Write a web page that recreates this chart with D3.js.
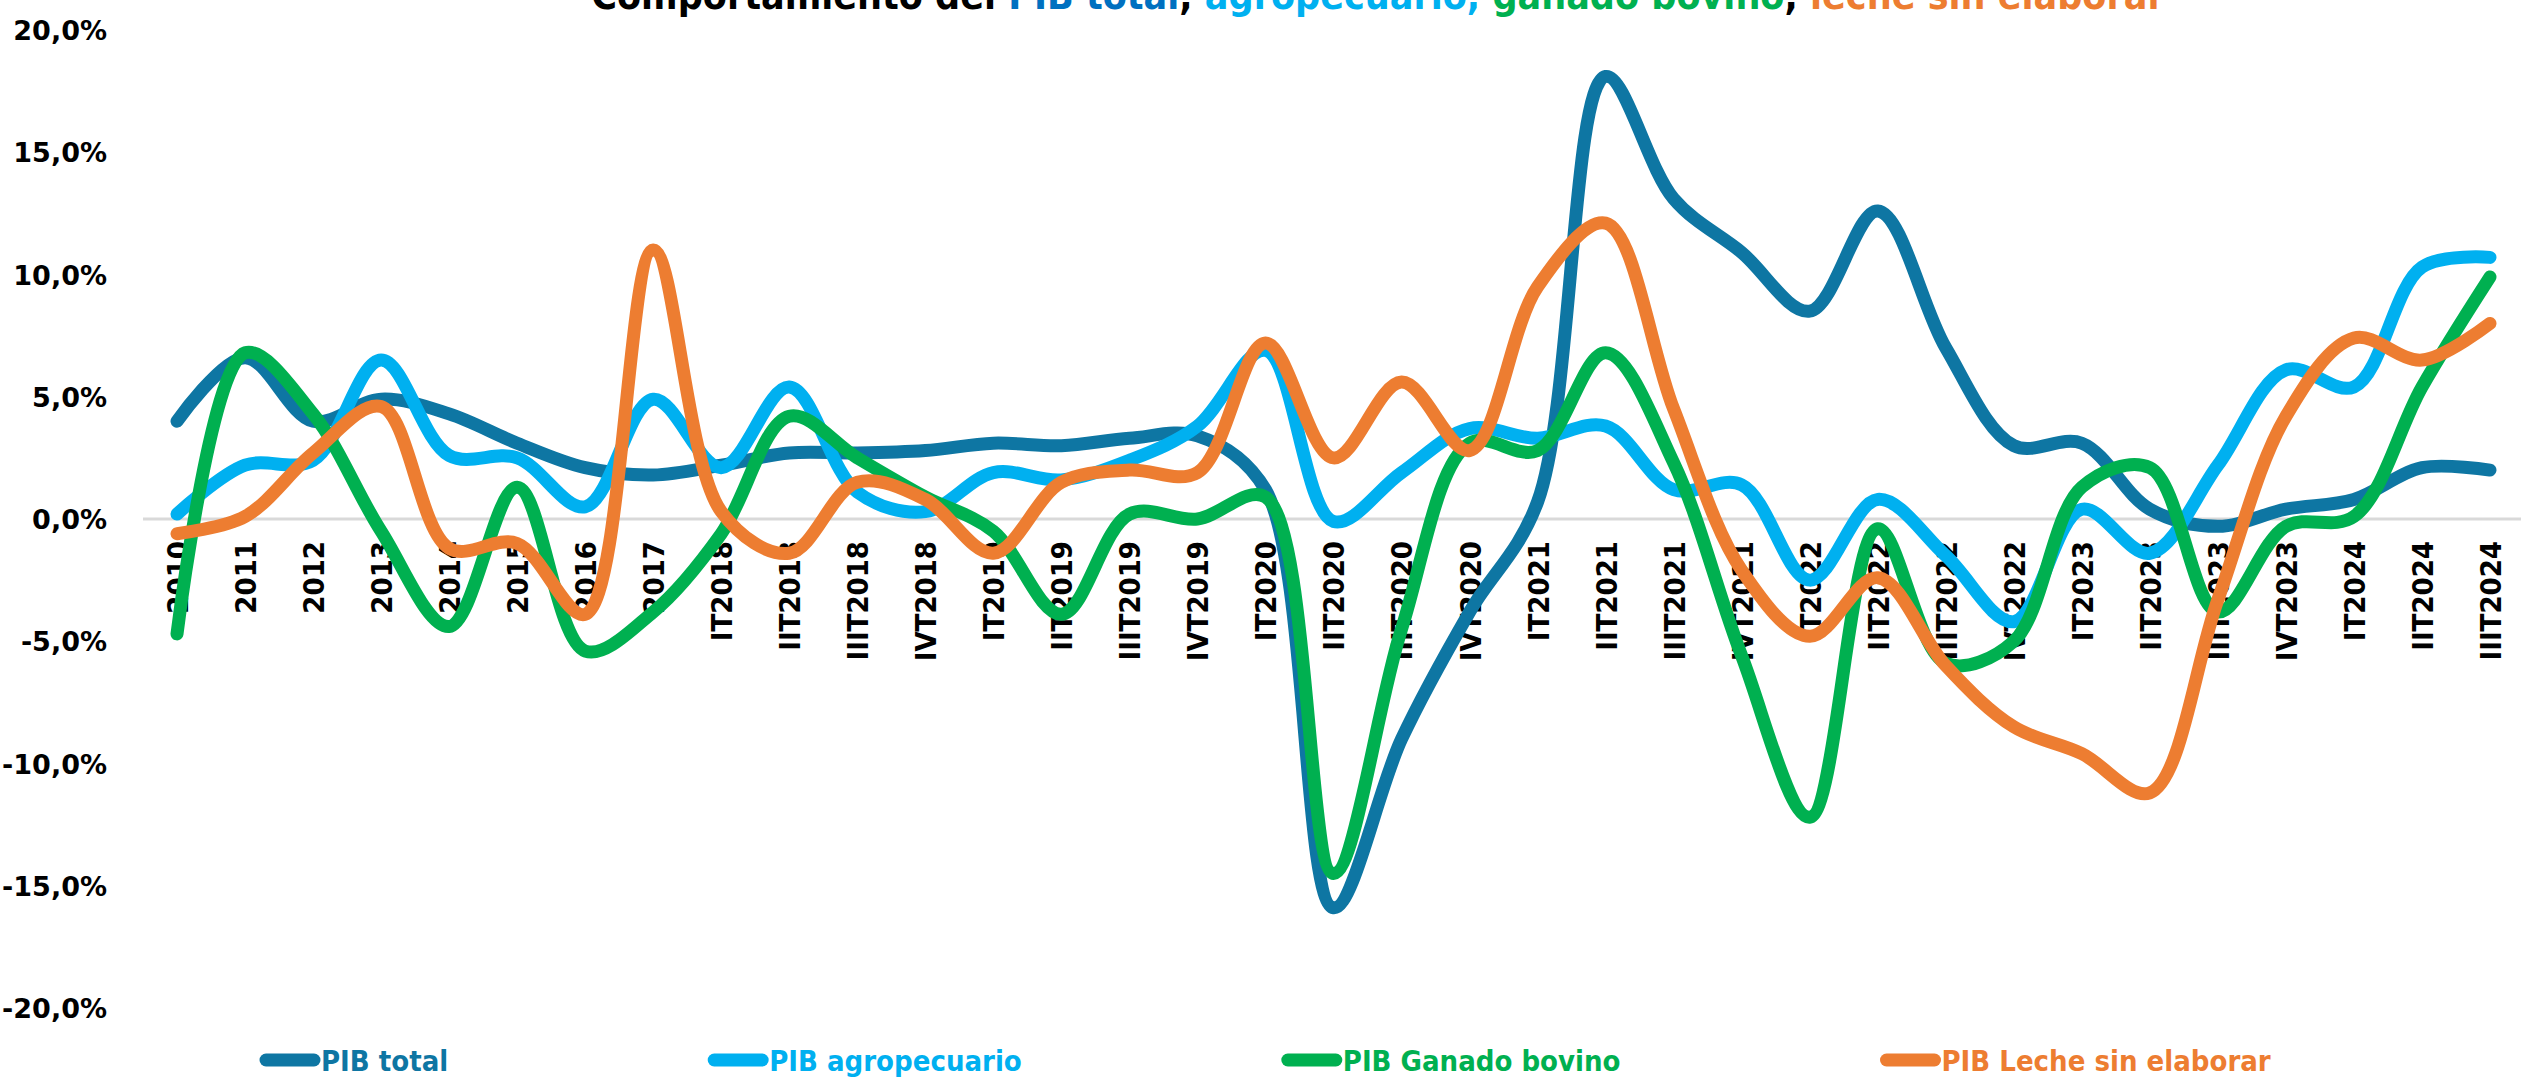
<!DOCTYPE html>
<html>
<head>
<meta charset="utf-8">
<script src="https://cdn.jsdelivr.net/npm/d3@7"></script>
<style>
  body { margin: 0; background: #fff; }
  svg { display: block; }
  .cond { font-family: "DejaVu Sans Condensed", "DejaVu Sans", sans-serif; font-stretch: condensed; font-weight: bold; }
  .yax text { font-family: "DejaVu Sans", sans-serif; font-weight: bold; font-size: 27px; fill: #000; }
</style>
</head>
<body>
<div id="chart-container"></div>
<script>
// categories (x axis)
var categories = ["2010", "2011", "2012", "2013", "2014", "2015", "2016", "2017",
    "IT2018", "IIT2018", "IIIT2018", "IVT2018",
    "IT2019", "IIT2019", "IIIT2019", "IVT2019",
    "IT2020", "IIT2020", "IIIT2020", "IVT2020",
    "IT2021", "IIT2021", "IIIT2021", "IVT2021",
    "IT2022", "IIT2022", "IIIT2022", "IVT2022",
    "IT2023", "IIT2023", "IIIT2023", "IVT2023",
    "IT2024", "IIT2024", "IIIT2024"];

// series values (%)
var pibTotal = [4.0, 6.6, 4.0, 4.9, 4.3, 3.1, 2.1, 1.8, 2.2, 2.7, 2.7, 2.8,
    3.1, 3.0, 3.3, 3.4, 1.2, -15.9, -9.0, -3.8, 0.7, 18.1, 13.1, 10.9,
    8.5, 12.6, 7.0, 3.0, 3.1, 0.4, -0.3, 0.4, 0.8, 2.1, 2.0];
var pibAgro = [0.2, 2.2, 2.4, 6.5, 2.6, 2.5, 0.5, 4.9, 2.1, 5.4, 1.1, 0.3,
    1.9, 1.6, 2.4, 3.8, 6.9, -0.1, 1.9, 3.7, 3.3, 3.8, 1.2, 1.4,
    -2.5, 0.8, -1.5, -4.2, 0.4, -1.4, 2.2, 6.1, 5.4, 10.3, 10.7];
var pibBovino = [-4.7, 6.8, 4.3, -0.5, -4.4, 1.3, -5.4, -3.8, -0.6, 4.2, 2.5, 0.9,
    -0.5, -3.9, 0.2, 0.0, 0.9, -14.5, -4.5, 3.1, 2.8, 6.8, 2.3, -5.6,
    -12.2, -0.4, -5.9, -5.0, 1.3, 2.1, -3.8, -0.3, 0.1, 5.4, 9.9];
var pibLeche = [-0.6, 0.1, 2.7, 4.6, -1.2, -1.0, -3.9, 11.0, 0.3, -1.4, 1.5, 0.8,
    -1.4, 1.5, 2.0, 1.9, 7.2, 2.5, 5.6, 2.8, 9.5, 12.1, 4.5, -2.1,
    -4.8, -2.4, -6.0, -8.5, -9.6, -11.2, -3.3, 4.2, 7.4, 6.5, 8.0];

// y ticks
var yTicks = [-20, -15, -10, -5, 0, 5, 10, 15, 20];

var seriesNames = ["PIB total", "PIB agropecuario", "PIB Ganado bovino", "PIB Leche sin elaborar"];
var seriesColors = ["#0e76a3", "#00b0f0", "#00b050", "#ed7d31"];
var seriesValues = [pibTotal, pibAgro, pibBovino, pibLeche];

var width = 2521, height = 1081;

var svg = d3.select("#chart-container").append("svg")
    .attr("width", width)
    .attr("height", height);

// scales
var x = d3.scalePoint()
    .domain(categories)
    .range([143, 2524])
    .padding(0.5);

var y = d3.scaleLinear()
    .domain([-20, 20])
    .range([1008, 30]);

// zero line
svg.append("line")
    .attr("x1", 143).attr("x2", width)
    .attr("y1", y(0)).attr("y2", y(0))
    .attr("stroke", "#d9d9d9")
    .attr("stroke-width", 3);

// y axis
var yAxis = svg.append("g")
    .attr("class", "yax")
    .attr("transform", "translate(143,0)")
    .call(d3.axisLeft(y)
        .tickValues(yTicks)
        .tickSize(0)
        .tickPadding(36)
        .tickFormat(function (d) { return d3.format(".1f")(d).replace(".", ",").replace("−", "-") + "%"; }));
yAxis.select(".domain").remove();
yAxis.selectAll("text").attr("dy", "0.36em");

// x axis labels, rotated
var xAxis = svg.append("g")
    .attr("transform", "translate(0," + y(0) + ")")
    .call(d3.axisBottom(x).tickSize(0));
xAxis.select(".domain").remove();
xAxis.selectAll("text")
    .attr("class", "cond")
    .attr("font-size", 29)
    .attr("fill", "#000")
    .attr("transform", "rotate(-90)")
    .attr("x", -22)
    .attr("y", 0)
    .attr("dy", "0.36em")
    .style("text-anchor", "end");

// lines
var line = d3.line()
    .x(function (d, i) { return x(categories[i]); })
    .y(function (d) { return y(d); })
    .curve(d3.curveCatmullRom.alpha(0.5));

seriesValues.forEach(function (vals, k) {
    svg.append("path")
        .datum(vals)
        .attr("fill", "none")
        .attr("stroke", seriesColors[k])
        .attr("stroke-width", 13)
        .attr("stroke-linecap", "round")
        .attr("stroke-linejoin", "round")
        .attr("d", line);
});

// title (partly cut at the top)
var title = svg.append("text")
    .attr("class", "cond")
    .attr("x", 1378)
    .attr("y", 9)
    .attr("font-size", 39)
    .attr("text-anchor", "middle");
var titleParts = [
    ["Comportamiento del ", "#000"],
    ["PIB total", "#0070c0"],
    [", ", "#000"],
    ["agropecuario,", "#00b0f0"],
    [" ganado bovino", "#00b050"],
    [", ", "#000"],
    ["leche sin elaborar", "#ed7d31"]
];
titleParts.forEach(function (p) {
    title.append("tspan").attr("fill", p[1]).text(p[0]);
});

// legend
var legend = svg.append("g");
var lx = 259;
seriesNames.forEach(function (name, k) {
    legend.append("line")
        .attr("x1", lx + 7).attr("x2", lx + 55)
        .attr("y1", 1060).attr("y2", 1060)
        .attr("stroke", seriesColors[k])
        .attr("stroke-width", 13)
        .attr("stroke-linecap", "round");
    var t = legend.append("text")
        .attr("class", "cond")
        .attr("x", lx + 62)
        .attr("y", 1071)
        .attr("font-size", 29)
        .attr("fill", seriesColors[k])
        .text(name);
    lx += 62 + t.node().getComputedTextLength() + 259;
});
</script>
</body>
</html>
